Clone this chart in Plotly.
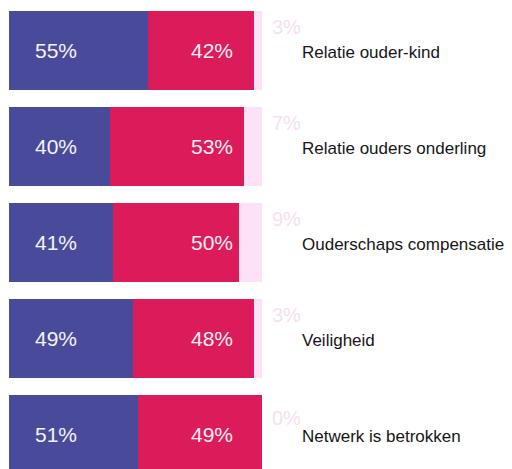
import plotly.graph_objects as go

categories = ["Relatie ouder-kind", "Relatie ouders onderling", "Ouderschaps compensatie",
              "Veiligheid", "Netwerk is betrokken"]
blue_vals = [55, 40, 41, 49, 51]
red_vals = [42, 53, 50, 48, 49]
pink_vals = [3, 7, 9, 3, 0]

BLUE = "#4a4a9b"
RED = "#dc1c5a"
PINK = "#fde2f5"
FONT = "Liberation Sans, Arial, sans-serif"

idx = list(range(len(categories)))

fig = go.Figure()
for vals, col in [(blue_vals, BLUE), (red_vals, RED), (pink_vals, PINK)]:
    fig.add_trace(go.Bar(y=idx, x=vals, orientation="h", marker=dict(color=col, line=dict(width=0)),
                         width=0.82, hoverinfo="skip", showlegend=False))

ann = []
for i in idx:
    ann.append(dict(x=18.6, y=i, text=f"{blue_vals[i]}%", showarrow=False, xanchor="center",
                    yanchor="middle", font=dict(family=FONT, size=21, color="#f4f2fb")))
    ann.append(dict(x=80.2, y=i, text=f"{red_vals[i]}%", showarrow=False, xanchor="center",
                    yanchor="middle", font=dict(family=FONT, size=21, color="#fbeef2")))
    off = -0.24 if i < len(idx) - 1 else -0.17
    ann.append(dict(x=103.0, y=i + off, text=f"{pink_vals[i]}%", showarrow=False, xanchor="left",
                    yanchor="middle", font=dict(family=FONT, size=20, color="#f7e0ee")))
    ann.append(dict(x=115.0, y=i + 0.02, text=categories[i], showarrow=False, xanchor="left",
                    yanchor="middle", font=dict(family=FONT, size=17, color="#161616")))

fig.update_layout(
    barmode="stack",
    width=504, height=461,
    margin=dict(l=0, r=0, t=0, b=0),
    paper_bgcolor="white", plot_bgcolor="white",
    xaxis=dict(range=[-0.395, 198.8], visible=False, fixedrange=True),
    yaxis=dict(range=[4.359, -0.443], visible=False, fixedrange=True),
    annotations=ann,
    bargap=0,
)
fig.write_html("out.html")
